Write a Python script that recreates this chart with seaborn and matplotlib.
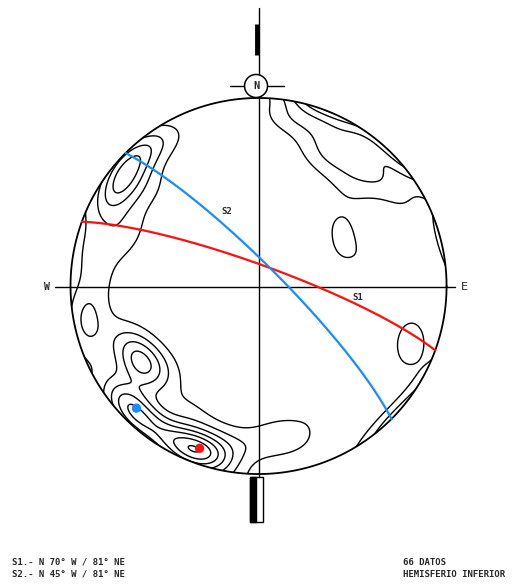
import numpy as np
import matplotlib
matplotlib.use("Agg")
import matplotlib.pyplot as plt
import seaborn as sns

# poles to planes, lower hemisphere (trend, plunge in degrees) and how many
# measurements sit on each spot
pole_trend = [206.7, 200.8, 195.1, 200.8, 212.1,
              230.9, 225.1, 219.0, 240.5, 234.0, 236.7,
              228.0, 208.9, 192.3, 248.7, 171.6, 166.7, 181.3,
              260.0, 272.2, 282.0, 252.7,
              309.7, 297.8, 316.7, 313.3, 304.7, 320.0, 327.4, 311.5, 293.5, 287.8,
              10.4, 14.0, 29.0, 24.3, 43.9, 57.3, 42.2, 29.6,
              52.6, 68.3, 107.6, 113.4,
              256.6, 335.8, 82.5, 147.9, 186.5, 0.0]
pole_plunge = [7.6, 7.0, 5.9, 13.5, 6.5,
               6.5, 7.0, 7.0, 27.0, 26.0, 26.3,
               33.6, 25.6, 17.2, 22.0, 22.5, 17.0, 16.6,
               9.0, 17.0, 9.5, 3.9,
               8.0, 8.8, 4.6, 6.4, 11.5, 6.0, 9.0, 24.0, 26.4, 21.0,
               8.6, 10.0, 9.5, 21.7, 15.6, 11.6, 28.0, 24.0,
               44.2, 49.5, 18.3, 11.5,
               63.6, 48.6, 35.0, 29.0, 57.0, 60.0]
pole_count = [2, 4, 2, 1, 1,
              2, 3, 2, 2, 2, 1,
              1, 1, 1, 1, 1, 1, 1,
              2, 1, 1, 1,
              2, 1, 1, 1, 2, 1, 1, 1, 1, 1,
              1, 1, 2, 1, 2, 1, 1, 1,
              1, 1, 1, 1,
              1, 1, 1, 1, 1, 1]

# mean planes
plane_name = ["S1", "S2"]
plane_strike = [290, 315]   # N 70 W, N 45 W
plane_dip = [81, 81]
plane_dipdir = [20, 45]

legend_lines = ["S1.- N 70\u00b0 W / 81\u00b0 NE", "S2.- N 45\u00b0 W / 81\u00b0 NE"]
info_lines = ["66 DATOS", "HEMISFERIO INFERIOR"]


def to_vec(trend, plunge):
    t = np.radians(trend)
    p = np.radians(plunge)
    return np.stack([np.cos(p) * np.sin(t), np.cos(p) * np.cos(t), np.sin(p)], axis=-1)


def schmidt(trend, plunge):
    t = np.radians(trend)
    r = np.sqrt(2) * np.sin(np.radians(90 - np.asarray(plunge)) / 2)
    return r * np.sin(t), r * np.cos(t)


def px(x, y):
    # picture pixels -> net coordinates (centre 258.5, 286, radius 188 px)
    return (x - 258.5) / 188, (286 - y) / 188


sns.set_style("white")
fig = plt.figure(figsize=(5.31, 5.88), dpi=100)
ax = fig.add_axes([0, 0, 1, 1])
ax.set_xlim(-1.375, 1.449)
ax.set_ylim(-1.606, 1.521)
ax.set_aspect("equal")
ax.axis("off")

# density of poles on the sphere (axial data, exponential kernel)
n = 420
g = np.linspace(-1.04, 1.04, n)
GX, GY = np.meshgrid(g, g)
rr = np.hypot(GX, GY)
gpl = 90 - 2 * np.degrees(np.arcsin(np.clip(rr / np.sqrt(2), 0, 1)))
gtr = np.degrees(np.arctan2(GX, GY))
gv = to_vec(gtr, gpl).reshape(-1, 3)
pv = to_vec(np.array(pole_trend), np.array(pole_plunge))
k = 60.0
dens = (np.exp(k * (np.abs(gv @ pv.T) - 1)) * np.array(pole_count)).sum(axis=1)
dens = dens.reshape(n, n)

levels = 1.2 * np.arange(1, 9)
circle = plt.Circle((0, 0), 1, transform=ax.transData, facecolor="none")
ax.add_patch(circle)
cs = ax.contour(GX, GY, dens, levels=levels, colors="black", linewidths=1.0)
cs.set_clip_path(circle)

# primitive circle
th = np.linspace(0, 2 * np.pi, 400)
ax.plot(np.cos(th), np.sin(th), color="black", lw=1.3)

# N-S and E-W axes
ax.plot([0, 0], [px(0, 8)[1], px(0, 476)[1]], color="black", lw=1.0)
ax.plot([px(55, 0)[0], px(455, 0)[0]], [px(0, 287)[1]] * 2, color="black", lw=1.0)
ax.plot([px(257, 0)[0]] * 2, [px(0, 24)[1], px(0, 55)[1]], color="black", lw=3.5,
        solid_capstyle="butt")
# north symbol
nx, ny = px(256, 86)
ax.add_patch(plt.Circle((nx, ny), 11.5 / 188, facecolor="white", edgecolor="black", lw=1.1, zorder=5))
ax.text(nx, ny, "N", ha="center", va="center", fontsize=7.5, fontweight="bold",
        family="DejaVu Sans Mono", zorder=6)
ax.plot([px(230, 0)[0], px(244, 0)[0]], [ny, ny], color="black", lw=1.0)
ax.plot([px(268, 0)[0], px(284, 0)[0]], [ny, ny], color="black", lw=1.0)
# south tail
x0, x1 = px(250, 0)[0], px(263, 0)[0]
y0, y1 = px(0, 477)[1], px(0, 522)[1]
ax.fill([x0, x1, x1, x0], [y0, y0, y1, y1], facecolor="white", edgecolor="black", lw=1.0)
ax.fill([x0, px(256, 0)[0], px(256, 0)[0], x0], [y0, y0, y1, y1], color="black")

ax.text(*px(47, 287), "W", ha="center", va="center", fontsize=7, fontweight="bold",
        family="DejaVu Sans Mono")
ax.text(*px(464, 287), "E", ha="center", va="center", fontsize=8, family="DejaVu Sans")

# great circles and poles of the mean planes
colors = ["#ff1010", "#1a8cff"]
for i in range(2):
    s = np.radians(plane_strike[i])
    a = np.array([np.sin(s), np.cos(s), 0.0])
    b = to_vec(plane_dipdir[i], plane_dip[i])
    t = np.linspace(0, np.pi, 200)[:, None]
    v = np.cos(t) * a + np.sin(t) * b
    vpl = np.degrees(np.arcsin(np.clip(v[:, 2], -1, 1)))
    vtr = np.degrees(np.arctan2(v[:, 0], v[:, 1]))
    cx, cy = schmidt(vtr, vpl)
    sns.lineplot(x=cx, y=cy, sort=False, estimator=None, color=colors[i], lw=1.6, ax=ax)
    ptx, pty = schmidt(plane_dipdir[i] + 180, 90 - plane_dip[i])
    sns.scatterplot(x=[ptx], y=[pty], color=colors[i], s=45, edgecolor="none", ax=ax, zorder=7)

ax.text(*px(227, 212), "S2", ha="center", va="center", fontsize=6.5, fontweight="bold",
        family="DejaVu Sans Mono")
ax.text(*px(358, 297), "S1", ha="center", va="center", fontsize=6.5, fontweight="bold",
        family="DejaVu Sans Mono")

for j, line in enumerate(legend_lines):
    ax.text(*px(12, 562 + 12 * j), line, ha="left", va="center", fontsize=6.5,
            fontweight="bold", family="DejaVu Sans Mono")
for j, line in enumerate(info_lines):
    ax.text(*px(403, 562 + 12 * j), line, ha="left", va="center", fontsize=6.5,
            fontweight="bold", family="DejaVu Sans Mono")

fig.savefig("out.png", dpi=100)
